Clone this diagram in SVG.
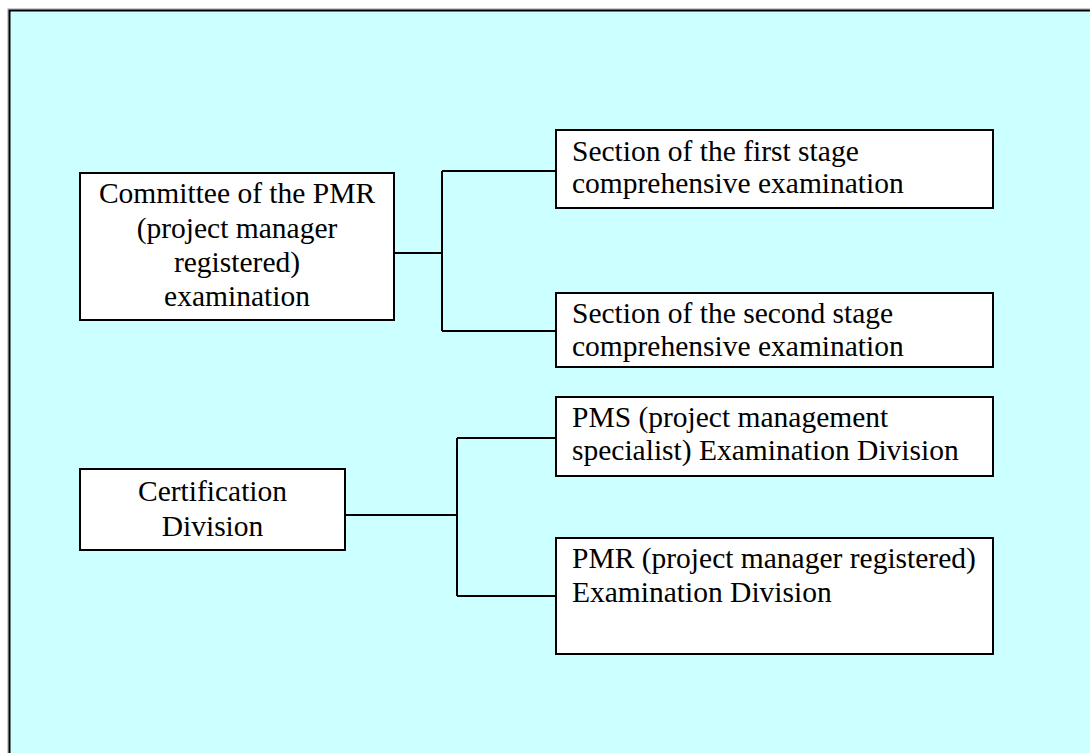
<svg xmlns="http://www.w3.org/2000/svg" width="1090" height="753" viewBox="0 0 1090 753">
  <style>
    .box { fill: #ffffff; stroke: #000000; stroke-width: 2; }
    .lbl { font-family: "Liberation Serif", "Times New Roman", serif; font-size: 29.5px; fill: #000000; }
    .mid { text-anchor: middle; }
    .wire { fill: none; stroke: #000000; stroke-width: 2; }
  </style>
  <rect x="0" y="0" width="1090" height="753" fill="#ffffff"/>
  <!-- background panel, extending past the right and bottom edges -->
  <rect x="8" y="9" width="1100" height="760" fill="none" stroke="#9a9a9a" stroke-width="1"/>
  <rect x="9.5" y="10.5" width="1100" height="760" fill="#ccffff" stroke="#000000" stroke-width="2"/>

  <g id="connectors">
    <path class="wire" d="M394 253 H442 M442 171 V331 M442 171 H556 M442 331 H556"/>
    <path class="wire" d="M345 515 H457 M457 438 V596 M457 438 H556 M457 596 H556"/>
  </g>

  <g id="committee">
    <rect class="box" x="80" y="173" width="314" height="147"/>
    <text class="lbl mid" x="237" y="203">Committee of the PMR</text>
    <text class="lbl mid" x="237" y="237.5">(project manager</text>
    <text class="lbl mid" x="237" y="272">registered)</text>
    <text class="lbl mid" x="237" y="306">examination</text>
  </g>

  <g id="first-stage">
    <rect class="box" x="556" y="130" width="437" height="78"/>
    <text class="lbl" x="572" y="161">Section of the first stage</text>
    <text class="lbl" x="572" y="193">comprehensive examination</text>
  </g>

  <g id="second-stage">
    <rect class="box" x="556" y="293" width="437" height="74"/>
    <text class="lbl" x="572" y="323">Section of the second stage</text>
    <text class="lbl" x="572" y="356">comprehensive examination</text>
  </g>

  <g id="certification">
    <rect class="box" x="80" y="469" width="265" height="81"/>
    <text class="lbl mid" x="212.5" y="500.5">Certification</text>
    <text class="lbl mid" x="212.5" y="535.5">Division</text>
  </g>

  <g id="pms-division">
    <rect class="box" x="556" y="397" width="437" height="79"/>
    <text class="lbl" x="572" y="427">PMS (project management</text>
    <text class="lbl" x="572" y="460">specialist) Examination Division</text>
  </g>

  <g id="pmr-division">
    <rect class="box" x="556" y="538" width="437" height="116"/>
    <text class="lbl" x="572" y="568">PMR (project manager registered)</text>
    <text class="lbl" x="572" y="602">Examination Division</text>
  </g>
</svg>
